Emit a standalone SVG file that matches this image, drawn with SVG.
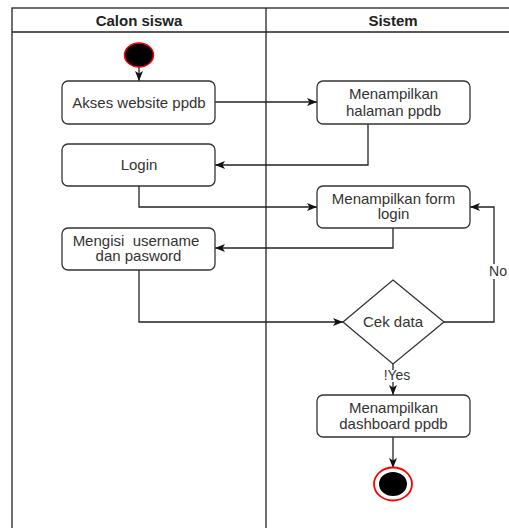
<svg xmlns="http://www.w3.org/2000/svg" width="509" height="528" viewBox="0 0 509 528">
<style>
.frame{fill:none;stroke:#222;stroke-width:1.3}
.box{fill:#fff;stroke:#333;stroke-width:1.3}
.t{font-family:"Liberation Sans",Arial,sans-serif;font-size:15px;fill:#333;text-anchor:middle;white-space:pre}
.h{font-weight:bold;fill:#222}
.edge{fill:none;stroke:#222;stroke-width:1.3}
.lbl{font-family:"Liberation Sans",Arial,sans-serif;font-size:14px;fill:#333;text-anchor:middle}
</style>
<defs>
<marker id="arr" viewBox="0 0 10 8" refX="10" refY="4" markerWidth="10" markerHeight="8" markerUnits="userSpaceOnUse" orient="auto">
<path d="M0,0 L10,4 L0,8 L2.5,4 Z" fill="#111"/>
</marker>
</defs>
<rect width="509" height="528" fill="#fff"/>
<g id="lanes">
<rect class="frame" x="12" y="8" width="520" height="540"/>
<line class="frame" x1="12" y1="32" x2="509" y2="32"/>
<line class="frame" x1="266" y1="8" x2="266" y2="528"/>
<text class="t h" x="139" y="25.5">Calon siswa</text>
<text class="t h" x="393" y="25.5">Sistem</text>
</g>
<g id="connectors">
<path class="edge" d="M139,67 L139,81" marker-end="url(#arr)"/>
<path class="edge" d="M215,102 L317,102" marker-end="url(#arr)"/>
<path class="edge" d="M368,124 L368,165 L215,165" marker-end="url(#arr)"/>
<path class="edge" d="M139,186 L139,207 L317,207" marker-end="url(#arr)"/>
<path class="edge" d="M393,228 L393,248 L215,248" marker-end="url(#arr)"/>
<path class="edge" d="M139,270 L139,322 L343,322" marker-end="url(#arr)"/>
<path class="edge" d="M444,322 L494,322 L494,207 L470,207" marker-end="url(#arr)"/>
<path class="edge" d="M393,364 L393,395" marker-end="url(#arr)"/>
<path class="edge" d="M393,437 L393,468" marker-end="url(#arr)"/>
<rect x="489" y="264" width="18" height="15" fill="#fff"/>
<text class="lbl" x="498" y="276">No</text>
<rect x="388" y="370" width="22" height="12" fill="#fff"/>
<text class="lbl" x="397" y="380">!Yes</text>
</g>
<g id="start">
<ellipse cx="139" cy="55" rx="14.5" ry="12" fill="#000" stroke="#ff0000" stroke-width="1.5"/>
</g>
<g id="akses">
<rect class="box" x="62" y="81" width="153" height="43" rx="6"/>
<text class="t" x="139" y="108">Akses website ppdb</text>
</g>
<g id="halaman">
<rect class="box" x="317" y="81" width="153" height="43" rx="6"/>
<text class="t" x="393.5" y="99">Menampilkan</text>
<text class="t" x="393.5" y="115.5">halaman ppdb</text>
</g>
<g id="login">
<rect class="box" x="62" y="144" width="153" height="42" rx="6"/>
<text class="t" x="139" y="170">Login</text>
</g>
<g id="formlogin">
<rect class="box" x="317" y="186" width="153" height="42" rx="6"/>
<text class="t" x="393.5" y="203.5">Menampilkan form</text>
<text class="t" x="393.5" y="219">login</text>
</g>
<g id="mengisi">
<rect class="box" x="62" y="228" width="153" height="42" rx="6"/>
<text class="t" x="136" y="245.5">Mengisi  username</text>
<text class="t" x="138.5" y="261">dan pasword</text>
</g>
<g id="cekdata">
<polygon class="box" points="393,280 444,322 393,364 343,322"/>
<text class="t" x="393" y="327">Cek data</text>
</g>
<g id="dashboard">
<rect class="box" x="317" y="395" width="153" height="42" rx="6"/>
<text class="t" x="393.5" y="412.5">Menampilkan</text>
<text class="t" x="393.5" y="428.5">dashboard ppdb</text>
</g>
<g id="end">
<ellipse cx="393" cy="484" rx="19" ry="16.5" fill="#fff" stroke="#ff0000" stroke-width="1.8"/>
<ellipse cx="393" cy="484" rx="14" ry="12" fill="#000"/>
</g>
</svg>
